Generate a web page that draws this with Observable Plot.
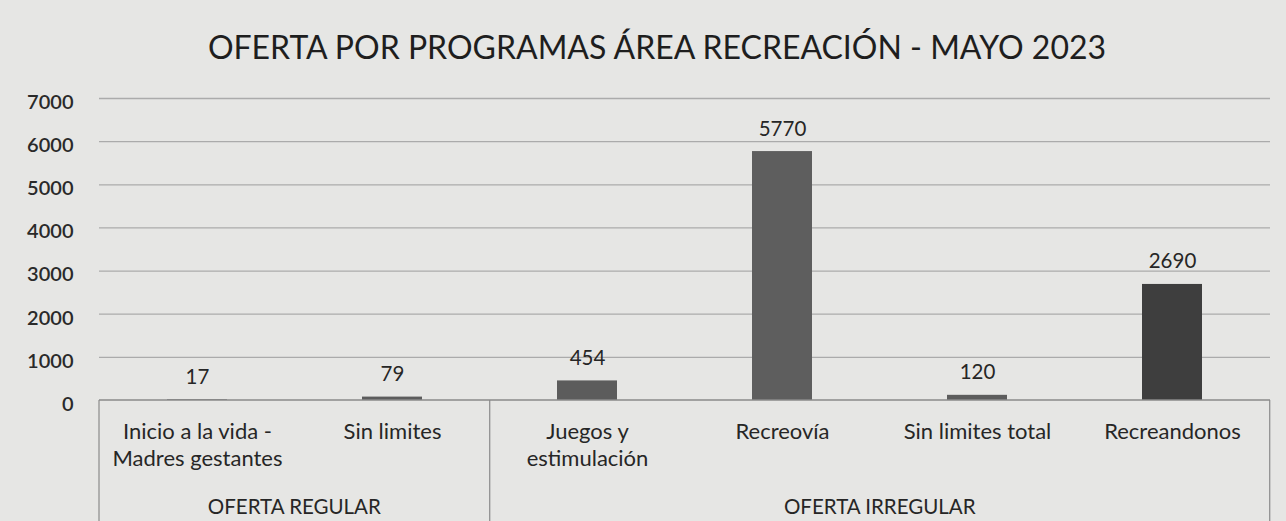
<!DOCTYPE html>
<html>
<head>
<meta charset="utf-8">
<script src="https://cdn.jsdelivr.net/npm/d3@7"></script>
<script src="https://cdn.jsdelivr.net/npm/@observablehq/plot@0.6"></script>
<style>
  html, body { margin: 0; padding: 0; background: #e6e6e4; }
  #chart svg { display: block; background: #e6e6e4; }
</style>
</head>
<body>
<div id="chart"></div>
<script>
const title = "OFERTA POR PROGRAMAS ÁREA RECREACIÓN - MAYO 2023";
const categories = ["Inicio a la vida -\nMadres gestantes", "Sin limites", "Juegos y\nestimulación", "Recreovía", "Sin limites total", "Recreandonos"];
const values = [17, 79, 454, 5770, 120, 2690];
const groups = ["OFERTA REGULAR", "OFERTA REGULAR", "OFERTA IRREGULAR", "OFERTA IRREGULAR", "OFERTA IRREGULAR", "OFERTA IRREGULAR"];
const yTicks = [0, 1000, 2000, 3000, 4000, 5000, 6000, 7000];
const barPalette = ["#5c5c5c", "#5c5c5c", "#5c5c5c", "#5e5e5e", "#5c5c5c", "#3e3e3e"];

const data = categories.map((c, i) => ({category: c, value: values[i], group: groups[i]}));
const groupNames = [...new Set(groups)];
const FONT = "Lato, 'Open Sans', sans-serif";
const INK = "#262626";

// custom mark: multi-level category axis box + group labels
function groupAxis(index, scales, values_, dimensions) {
  const x = scales.x;
  const step = x(categories[1]) - x(categories[0]);
  const bw = step * (1 - 0.69);
  const center = c => x(c) + bw / 2;
  const {height, marginBottom, marginLeft, width, marginRight} = dimensions;
  const y0 = height - marginBottom;
  const g = d3.create("svg:g");
  const left = marginLeft, right = width - marginRight;
  g.append("line").attr("x1", left).attr("x2", right).attr("y1", y0).attr("y2", y0)
    .attr("stroke", "#8a8a8a").attr("stroke-width", 1.5);
  const bounds = [left];
  groupNames.forEach(name => {
    const cats = categories.filter((c, i) => groups[i] === name);
    const last = cats[cats.length - 1];
    bounds.push(Math.min(right, center(last) + step / 2));
  });
  bounds.forEach(bx => {
    g.append("line").attr("x1", bx).attr("x2", bx).attr("y1", y0).attr("y2", height)
      .attr("stroke", "#8a8a8a").attr("stroke-width", 1.2);
  });
  groupNames.forEach((name, k) => {
    g.append("text").attr("x", (bounds[k] + bounds[k + 1]) / 2).attr("y", y0 + 114)
      .attr("text-anchor", "middle").attr("font-family", FONT).attr("font-size", 20.5)
      .attr("fill", INK).text(name);
  });
  return g.node();
}

const chart = Plot.plot({
  width: 1286,
  height: 521,
  marginTop: 98,
  marginBottom: 121,
  marginLeft: 99,
  marginRight: 16,
  style: {fontFamily: FONT, background: "#e6e6e4", color: INK},
  x: {domain: categories, paddingInner: 0.69, paddingOuter: 0.345, label: null},
  y: {domain: [0, 7000], label: null},
  color: {domain: categories, range: barPalette},
  marks: [
    Plot.ruleY(yTicks.filter(t => t > 0), {stroke: "#ababab", strokeWidth: 1.3}),
    Plot.axisY({ticks: yTicks, tickFormat: d => String(d), tickSize: 0, tickPadding: 26, dy: 4, fontSize: 20, fontWeight: 600, fill: "#2a2a2a", label: null}),
    Plot.axisX({tickSize: 0, tickPadding: 19, fontSize: 22, lineHeight: 1.23, fill: INK, label: null}),
    Plot.barY(data, {x: "category", y: "value", fill: "category"}),
    Plot.text(data, {x: "category", y: "value", text: d => String(d.value), lineAnchor: "bottom", dy: -16, fontSize: 20.5, fill: INK}),
    Plot.text([title], {frameAnchor: "top", dx: -28, dy: -62.5, fontSize: 32, fill: "#1e1e1e", text: d => d}),
    groupAxis
  ]
});
document.getElementById("chart").appendChild(chart);
</script>
</body>
</html>
